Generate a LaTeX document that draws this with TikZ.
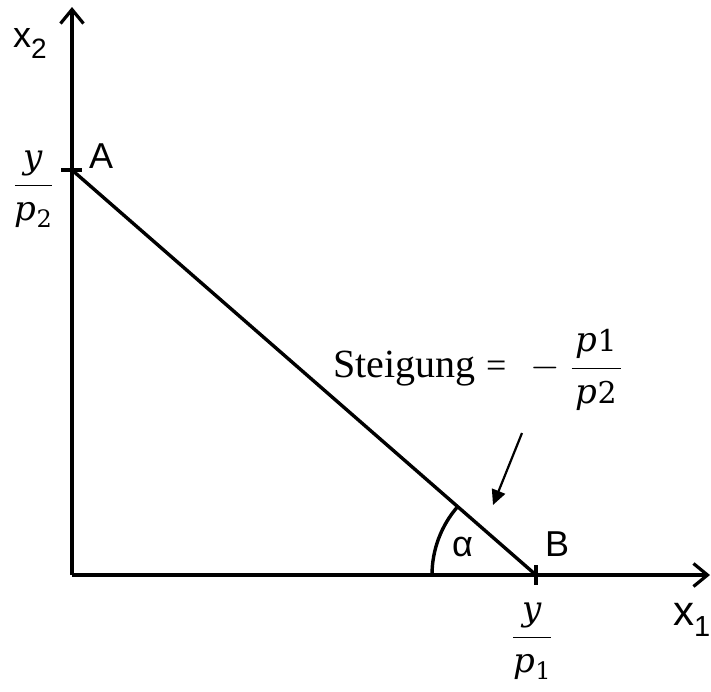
\RequirePackage{fix-cm}
\documentclass[tikz,border=0pt]{standalone}
\usepackage[no-math]{fontspec}
\setmainfont{Liberation Sans}
\newfontfamily\timesf{Liberation Serif}
\newfontfamily\mletf{DejaVu Serif}
\newcommand\mvar[1]{\mbox{\mletf\fontsize{34}{36}\selectfont\itshape #1}}
\newcommand\mdig[1]{\mbox{\mletf\fontsize{30}{32}\selectfont #1}}
\newcommand\msub[1]{\mbox{\mletf\fontsize{24}{26}\selectfont\raisebox{-7pt}{#1}}}
\usetikzlibrary{arrows.meta}
\begin{document}
\begin{tikzpicture}[x=1pt,y=-1pt,
  axisline/.style={line width=3.4pt,-{Straight Barb[length=14pt,width=23pt,line width=3.2pt]}},
  plotline/.style={line width=3.4pt},
  tickline/.style={line width=3.4pt},
  pointer/.style={line width=2.2pt,-{Triangle[length=15pt,width=14pt]}},
  lbl/.style={inner sep=0pt,anchor=base west,font=\fontsize{36}{40}\selectfont},
  mathlbl/.style={inner sep=0pt,anchor=base,font=\fontsize{38}{44}\selectfont}]
\useasboundingbox (0,0) rectangle (711,691);
\fill[white] (0,0) rectangle (711,691);
\coordinate (O) at (72,575);
\coordinate (Ytip) at (72,7);
\coordinate (Xtip) at (710,575);
\coordinate (A) at (72,170);
\coordinate (B) at (536,575);
\coordinate (Pst) at (522,433);
\coordinate (Pend) at (493,505);
% axes
\draw[axisline] (O) -- (Ytip);
\draw[axisline] (O) -- (Xtip);
% budget line
\draw[plotline] (A) -- (B);
% ticks
\draw[tickline] ([xshift=-11pt]A) -- ([xshift=10pt]A);
\draw[tickline] ([yshift=10pt]B) -- ([yshift=-10pt]B);
% angle arc
\draw[plotline] ([xshift=-104pt]B) arc[start angle=180,end angle=221.1,radius=104];
% pointer arrow
\draw[pointer] (Pst) -- (Pend);
% labels
\node[lbl] (x2lab) at (13,47) {x\raisebox{-11pt}{\fontsize{28}{28}\selectfont 2}};
\node[lbl,font=\fontsize{42}{44}\selectfont] (x1lab) at (673,625) {x\raisebox{-11pt}{\fontsize{29}{29}\selectfont 1}};
\node[lbl] (Alab) at (89,168) {A};
\node[lbl] (Blab) at (545,556) {B};
\node[lbl] (alab) at (452,556) {α};
\node[mathlbl] (fA) at (33.5,194.5) {$\displaystyle\frac{\mvar{y}}{\mvar{p}\msub{2}}$};
\node[mathlbl] (fB) at (532,646.5) {$\displaystyle\frac{\mvar{y}}{\mvar{p}\msub{1}}$};
\node[inner sep=0pt,anchor=base west,font=\timesf\fontsize{40}{44}\selectfont] (steig) at (333,377) {Steigung};
\node[inner sep=0pt,anchor=base west,font=\timesf\fontsize{36}{38}\selectfont] (eq) at (486,377) {=};
\node[inner sep=0pt,anchor=base west,font=\fontsize{38}{44}\selectfont] (slope) at (530,377.5) {$\displaystyle -\;\frac{\mkern2mu\mvar{p}\mdig{1}\mkern2mu}{\mkern2mu\mvar{p}\mdig{2}\mkern2mu}$};
\end{tikzpicture}
\end{document}
